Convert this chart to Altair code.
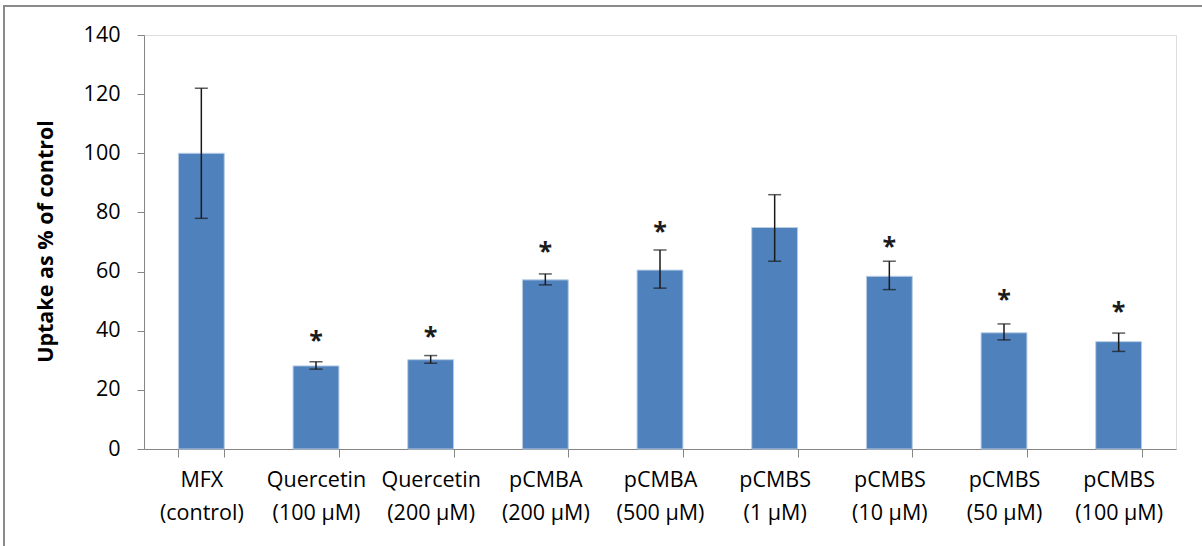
import altair as alt
import pandas as pd

categories = ["MFX\n(control)", "Quercetin\n(100 µM)", "Quercetin\n(200 µM)",
              "pCMBA\n(200 µM)", "pCMBA\n(500 µM)", "pCMBS\n(1 µM)",
              "pCMBS\n(10 µM)", "pCMBS\n(50 µM)", "pCMBS\n(100 µM)"]
values = [100, 28.1, 30.2, 57.2, 60.5, 74.9, 58.4, 39.3, 36.3]
err_low = [78, 27.0, 29.0, 55.5, 54.4, 63.5, 53.9, 36.9, 33.0]
err_high = [122, 29.5, 31.6, 59.2, 67.3, 86.0, 63.5, 42.3, 39.2]
stars = ["", "*", "*", "*", "*", "", "*", "*", "*"]
star_y = [0, 38.5, 40, 68.5, 75.5, 0, 70.5, 52.5, 48.5]

df = pd.DataFrame({"cat": categories, "value": values, "lo": err_low,
                   "hi": err_high, "star": stars, "star_y": star_y})

FONT = "Open Sans"
AX = "#868686"

x = alt.X("cat:N", sort=categories,
          scale=alt.Scale(paddingInner=0.6, paddingOuter=0.3),
          axis=alt.Axis(title=None, labelAngle=0, tickBand="extent", tickSize=8,
                        domainColor=AX, tickColor=AX, labelColor="#000000",
                        labelFont=FONT, labelFontSize=21.5, labelLineHeight=33,
                        labelPadding=12,
                        labelExpr="split(datum.label, '\\n')"))
y = alt.Y("value:Q", scale=alt.Scale(domain=[0, 140], nice=False),
          axis=alt.Axis(title="Uptake as % of control", values=list(range(0, 141, 20)),
                        grid=False, tickSize=7, domainColor=AX, tickColor=AX,
                        labelFont=FONT, labelFontSize=21.5, labelColor="#000000",
                        labelPadding=17, titleFont=FONT, titleFontSize=21.5,
                        titleFontWeight="bold", titleColor="#000000",
                        titleX=-98, titleY=206, titleAngle=270, titleBaseline="middle",
                        titleAlign="center"))

base = alt.Chart(df)
bars = base.mark_bar(color="#4F81BD", stroke="#B9CDE5", strokeWidth=1).encode(x=x, y=y)
rules = base.mark_rule(color="#1a1a1a", strokeWidth=1.5).encode(
    x=alt.X("cat:N", sort=categories), y="lo:Q", y2="hi:Q")
cap_lo = base.mark_tick(color="#1a1a1a", thickness=1.5, size=13, orient="horizontal").encode(
    x=alt.X("cat:N", sort=categories), y="lo:Q")
cap_hi = base.mark_tick(color="#1a1a1a", thickness=1.5, size=13, orient="horizontal").encode(
    x=alt.X("cat:N", sort=categories), y="hi:Q")
star_marks = base.mark_text(font=FONT, fontSize=25, fontWeight="bold", color="#1a1a1a",
                            baseline="middle", dy=6).encode(
    x=alt.X("cat:N", sort=categories), y="star_y:Q", text="star:N")

frame = alt.Chart(alt.Data(values=[{}])).mark_rect(
    fill=None, stroke="#8a8a8a", strokeWidth=2).encode(
    x=alt.value(-140), x2=alt.value(1200), y=alt.value(-29), y2=alt.value(700))

chart = alt.layer(frame, bars, rules, cap_lo, cap_hi, star_marks).properties(
    width=1032, height=414,
    autosize=alt.AutoSizeParams(type="none"),
    padding={"left": 144, "top": 35, "right": 26, "bottom": 97},
).configure_view(stroke=None).configure(background="white")

chart.save("out.html", embed_options={"renderer": "svg", "actions": False})
